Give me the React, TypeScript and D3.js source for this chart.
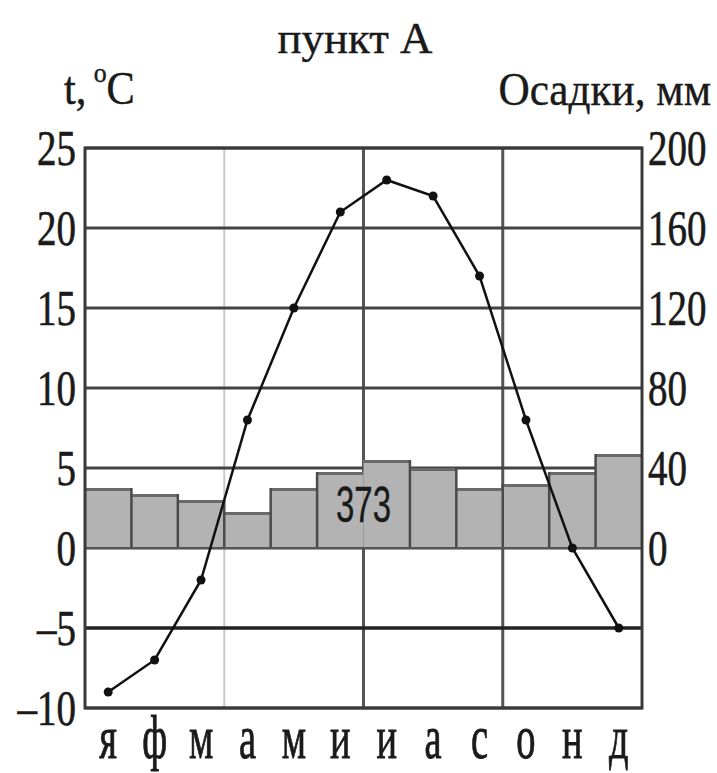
import React from "react";
import * as d3 from "d3";

const months = ["я", "ф", "м", "а", "м", "и", "и", "а", "с", "о", "н", "д"];
const temperature = [-9, -7, -2, 8, 15, 21, 23, 22, 17, 8, 0, -5];
const precipitation = [30, 27, 24, 18, 30, 38, 44, 40, 30, 32, 38, 47];
const tempTicks = [-10, -5, 0, 5, 10, 15, 20, 25];
const precTicks = [0, 40, 80, 120, 160, 200];
const title = "пункт А";
const totalLabel = "373";

const W = 717;
const H = 773;
const L = 85, R = 642, T = 148, B = 708;
const SERIF = "'Liberation Serif', 'DejaVu Serif', serif";
const SANS = "'Liberation Sans', 'DejaVu Sans', sans-serif";

function SText({ x, y, sx = 0.78, size, anchor = "start", family = SERIF, sw = 0.6, children }: any) {
  return (
    <text
      transform={`translate(${x},${y}) scale(${sx},1)`}
      fontSize={size}
      fontFamily={family}
      textAnchor={anchor}
      fill="#1a1a1a"
      stroke="#1a1a1a"
      strokeWidth={sw}
    >
      {children}
    </text>
  );
}

export default function App() {
  const x = d3.scaleBand<number>().domain(d3.range(12)).range([L, R]).padding(0);
  const yT = d3.scaleLinear().domain([-10, 25]).range([B, T]);
  const yP = d3.scaleLinear().domain([0, 200]).range([yT(0), T]);
  const line = d3
    .line<number>()
    .x((_, i) => x(i)! + x.bandwidth() / 2)
    .y((d) => yT(d));

  const bw = x.bandwidth();
  return (
    <div style={{ position: "absolute", left: 0, top: 0 }}>
      <svg width={W} height={H} style={{ display: "block", background: "#fff" }}>
        {/* vertical grid lines */}
        {[3, 6, 9].map((m) => (
          <line
            key={m}
            x1={x(m)}
            x2={x(m)}
            y1={T}
            y2={B}
            stroke={m === 3 ? "#c8c8c8" : "#555"}
            strokeWidth={m === 3 ? 2 : 3}
          />
        ))}
        {/* horizontal grid lines */}
        {tempTicks.map((t) => (
          <line
            key={t}
            x1={L}
            x2={R}
            y1={yT(t)}
            y2={yT(t)}
            stroke={t === -5 ? "#222" : "#444"}
            strokeWidth={t === -5 ? 3.5 : 3}
          />
        ))}
        {/* precipitation bars */}
        {precipitation.map((p, i) => (
          <g key={i}>
            <rect x={x(i)} y={yP(p)} width={bw} height={yP(0) - yP(p)} fill="#b3b3b3" />
            <line x1={x(i)} x2={x(i)! + bw} y1={yP(p) + 1.5} y2={yP(p) + 1.5} stroke="#6a6a6a" strokeWidth={3} />
          </g>
        ))}
        {precipitation.map((p, i) =>
          i === 0 || i === 6 ? null : (
            <line
              key={"s" + i}
              x1={x(i)}
              x2={x(i)}
              y1={yP(Math.max(p, precipitation[i - 1]))}
              y2={yP(0)}
              stroke="#4a4a4a"
              strokeWidth={2.5}
            />
          )
        )}
        <line x1={L} x2={R} y1={yP(0)} y2={yP(0)} stroke="#555" strokeWidth={2} />
        <SText x={x(6)} y={yP(0) - 26} size={50} sx={0.66} anchor="middle" family={SANS} sw={0.4}>
          {totalLabel}
        </SText>
        {/* frame */}
        <rect x={L} y={T} width={R - L} height={B - T} fill="none" stroke="#3a3a3a" strokeWidth={3} />
        {/* temperature line */}
        <path d={line(temperature) || ""} fill="none" stroke="#111" strokeWidth={2.5} />
        {temperature.map((t, i) => (
          <circle key={i} cx={x(i)! + bw / 2} cy={yT(t)} r={4.5} fill="#111" />
        ))}
        {/* left ticks */}
        {tempTicks.map((t) => (
          <SText key={t} x={76} y={yT(t) + 17} size={50} anchor="end">
            {t < 0 ? "\u2013" + Math.abs(t) : String(t)}
          </SText>
        ))}
        {/* right ticks */}
        {precTicks.map((p) => (
          <SText key={p} x={648} y={yP(p) + 17} size={50} anchor="start">
            {String(p)}
          </SText>
        ))}
        {/* month labels */}
        {months.map((m, i) => (
          <SText key={i} x={x(i)! + bw / 2} y={758} size={62} sx={0.62} anchor="middle" sw={0.9}>
            {m}
          </SText>
        ))}
        {/* titles */}
        <SText x={355} y={53} size={44} sx={1.02} anchor="middle" sw={0.4}>
          {title}
        </SText>
        <text
          transform="translate(64,104) scale(0.92,1)"
          fontSize={46}
          fontFamily={SERIF}
          fill="#1a1a1a"
          stroke="#1a1a1a"
          strokeWidth={0.5}
        >
          t,
          <tspan fontSize={28} dy={-22} dx={8}>o</tspan>
          <tspan dy={22}>C</tspan>
        </text>
        <SText x={711} y={105} size={46} sx={0.94} anchor="end" sw={0.4}>
          Осадки, мм
        </SText>
      </svg>
    </div>
  );
}
